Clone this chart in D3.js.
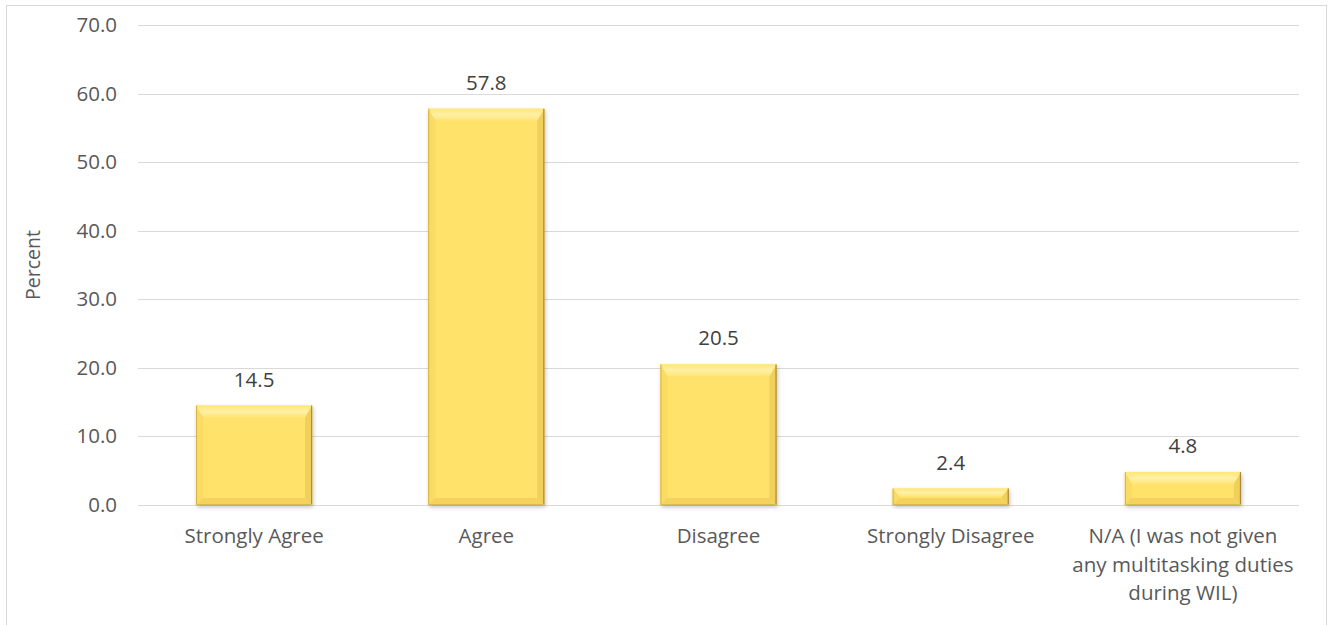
<!DOCTYPE html>
<html>
<head>
<meta charset="utf-8">
<script src="https://cdn.jsdelivr.net/npm/d3@7"></script>
<style>
  html, body { margin: 0; padding: 0; background: #fff; }
  svg { display: block; font-family: "Open Sans", sans-serif; }
</style>
</head>
<body>
<svg id="chart" width="1333" height="625"></svg>
<script>
// Survey responses (percent)
const categories = [
  "Strongly Agree",
  "Agree",
  "Disagree",
  "Strongly Disagree",
  "N/A (I was not given any multitasking duties during WIL)"
];
const categoryLines = [
  ["Strongly Agree"],
  ["Agree"],
  ["Disagree"],
  ["Strongly Disagree"],
  ["N/A (I was not given", "any multitasking duties", "during WIL)"]
];
const values = [14.5, 57.8, 20.5, 2.4, 4.8];
const yTicks = [0, 10, 20, 30, 40, 50, 60, 70];
const yTitle = "Percent";

const FONT = 20.5;
const svg = d3.select("#chart");
const W = 1333, H = 625;
const margin = { left: 138, right: 34, top: 25, bottom: 120 };
const x0 = margin.left, x1 = W - margin.right;
const yTop = margin.top, yBottom = H - margin.bottom;

// chart frame
svg.append("rect")
  .attr("x", 6.5).attr("y", 5.5)
  .attr("width", 1320).attr("height", 640)
  .attr("fill", "#fff").attr("stroke", "#d9d9d9").attr("stroke-width", 1);

const x = d3.scaleBand().domain(categories).range([x0, x1]).paddingInner(0.5).paddingOuter(0.25);
const y = d3.scaleLinear().domain([0, 70]).range([yBottom, yTop]);

// gridlines
svg.append("g")
  .selectAll("line")
  .data(yTicks)
  .join("line")
  .attr("x1", x0).attr("x2", x1)
  .attr("y1", d => Math.round(y(d)) + 0.5).attr("y2", d => Math.round(y(d)) + 0.5)
  .attr("stroke", "#d9d9d9").attr("stroke-width", 1);

// y axis labels
const yAxis = d3.axisLeft(y).tickValues(yTicks).tickFormat(d3.format(".1f")).tickSize(0).tickPadding(21);
const gy = svg.append("g").attr("transform", `translate(${x0},0)`).call(yAxis);
gy.select(".domain").remove();
gy.selectAll("text").attr("font-size", FONT).attr("fill", "#595959")
  .attr("font-family", "'Open Sans', sans-serif");

// y title
svg.append("text")
  .attr("transform", `translate(40,${(yTop + yBottom) / 2}) rotate(-90)`)
  .attr("text-anchor", "middle")
  .attr("font-size", FONT - 1).attr("fill", "#595959")
  .text(yTitle);

// bar shading
const defs = svg.append("defs");
const f = defs.append("filter").attr("id", "shadow").attr("x", "-20%").attr("y", "-20%").attr("width", "140%").attr("height", "140%");
f.append("feDropShadow").attr("dx", 1).attr("dy", 2).attr("stdDeviation", 2)
  .attr("flood-color", "#000").attr("flood-opacity", 0.25);

const topGrad = defs.append("linearGradient").attr("id", "topBevel").attr("x1", 0).attr("y1", 0).attr("x2", 0).attr("y2", 1);
topGrad.append("stop").attr("offset", "0%").attr("stop-color", "#ffe777");
topGrad.append("stop").attr("offset", "50%").attr("stop-color", "#fff0a6");
topGrad.append("stop").attr("offset", "100%").attr("stop-color", "#ffe577");

const bars = svg.append("g").selectAll("g")
  .data(categories.map((c, i) => ({ c, v: values[i] })))
  .join("g");

bars.each(function (d) {
  const g = d3.select(this);
  const bx = x(d.c), bw = x.bandwidth();
  const by = y(d.v), bh = y(0) - y(d.v);
  const t = Math.min(12, bh / 2), s = Math.min(7, bw / 2), b = Math.min(7, bh / 2);
  g.append("rect").attr("x", bx).attr("y", by).attr("width", bw).attr("height", bh)
    .attr("fill", "#ffe066").attr("filter", "url(#shadow)");
  // face
  g.append("rect").attr("x", bx + s).attr("y", by + t).attr("width", bw - 2 * s).attr("height", Math.max(0, bh - t - b))
    .attr("fill", "#ffe26a");
  // top bevel
  g.append("polygon").attr("points", [[bx, by], [bx + bw, by], [bx + bw - s, by + t], [bx + s, by + t]].join(" "))
    .attr("fill", "url(#topBevel)");
  // left bevel
  g.append("polygon").attr("points", [[bx, by], [bx + s, by + t], [bx + s, by + bh - b], [bx, by + bh]].join(" "))
    .attr("fill", "#fadb63");
  // right bevel
  g.append("polygon").attr("points", [[bx + bw, by], [bx + bw - s, by + t], [bx + bw - s, by + bh - b], [bx + bw, by + bh]].join(" "))
    .attr("fill", "#f0cf5a");
  // bottom bevel
  g.append("polygon").attr("points", [[bx, by + bh], [bx + s, by + bh - b], [bx + bw - s, by + bh - b], [bx + bw, by + bh]].join(" "))
    .attr("fill", "#f3d25e");
  // edges
  g.append("line").attr("x1", bx + bw - 0.5).attr("x2", bx + bw - 0.5).attr("y1", by).attr("y2", by + bh)
    .attr("stroke", "#a88a3a").attr("stroke-width", 1.2);
  g.append("line").attr("x1", bx + 0.5).attr("x2", bx + 0.5).attr("y1", by).attr("y2", by + bh)
    .attr("stroke", "#d6b24c").attr("stroke-width", 1);
  g.append("line").attr("x1", bx).attr("x2", bx + bw).attr("y1", by + bh - 0.5).attr("y2", by + bh - 0.5)
    .attr("stroke", "#d9b850").attr("stroke-width", 1);
  // value label
  g.append("text").attr("x", bx + bw / 2).attr("y", by - 19)
    .attr("text-anchor", "middle").attr("font-size", FONT).attr("fill", "#404040")
    .text(d3.format(".1f")(d.v));
});

// category labels
const cat = svg.append("g").selectAll("text")
  .data(categories)
  .join("text")
  .attr("x", d => x(d) + x.bandwidth() / 2)
  .attr("y", 543)
  .attr("text-anchor", "middle")
  .attr("font-size", FONT).attr("fill", "#595959");
cat.each(function (d, i) {
  d3.select(this).selectAll("tspan")
    .data(categoryLines[i])
    .join("tspan")
    .attr("x", x(d) + x.bandwidth() / 2)
    .attr("dy", (l, j) => j === 0 ? 0 : 28.5)
    .text(l => l);
});
</script>
</body>
</html>
